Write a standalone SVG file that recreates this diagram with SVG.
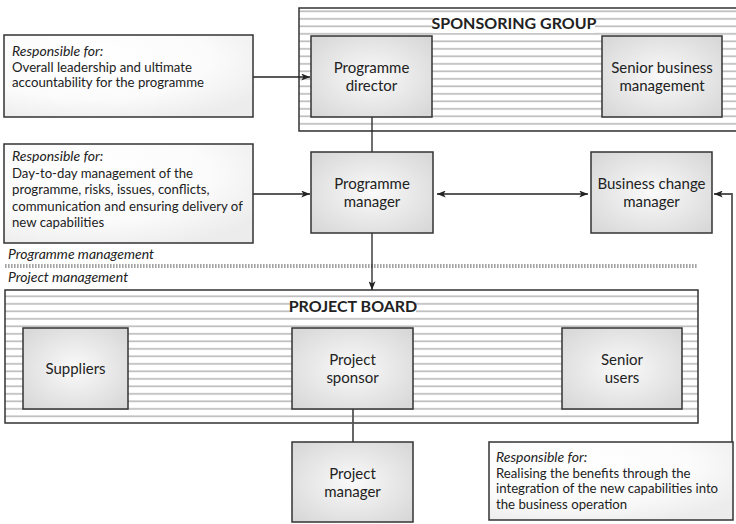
<svg xmlns="http://www.w3.org/2000/svg" width="736" height="524" viewBox="0 0 736 524">
<defs>
  <pattern id="stripes" patternUnits="userSpaceOnUse" x="0" y="0" width="10" height="7.5">
    <rect width="10" height="7.5" fill="#ffffff"/>
    <rect y="3" width="10" height="1.7" fill="#bdbdbd"/>
  </pattern>
  <radialGradient id="nodeFill" cx="50%" cy="50%" r="65%">
    <stop offset="0" stop-color="#fafafa"/>
    <stop offset="1" stop-color="#d8d8d8"/>
  </radialGradient>
  <radialGradient id="noteFill" cx="35%" cy="30%" r="80%">
    <stop offset="0" stop-color="#ffffff"/>
    <stop offset="0.6" stop-color="#fbfbfb"/>
    <stop offset="1" stop-color="#ececec"/>
  </radialGradient>
  <marker id="arrow" viewBox="0 0 10 8" refX="10" refY="4" markerWidth="9" markerHeight="7" markerUnits="userSpaceOnUse" orient="auto-start-reverse">
    <path d="M0,0 L10,4 L0,8 L2.5,4 Z" fill="#222"/>
  </marker>
</defs>
<style>
  .group { fill: url(#stripes); stroke: #333; stroke-width: 1.5; }
  .node { fill: url(#nodeFill); stroke: #333; stroke-width: 1.5; }
  .note { fill: url(#noteFill); stroke: #333; stroke-width: 1.5; }
  .title { font-family: Lato, "Liberation Sans", sans-serif; font-weight: bold; font-size: 16px; fill: #222; text-anchor: middle; }
  .label { font-family: Lato, "Liberation Sans", sans-serif; font-size: 15px; fill: #222; text-anchor: middle; }
  .txt { font-family: Lato, "Liberation Sans", sans-serif; font-size: 13.2px; fill: #222; }
  .it { font-style: italic; font-size: 14px; }
  .sec { font-family: Lato, "Liberation Sans", sans-serif; font-size: 14px; font-style: italic; fill: #222; }
  .conn { fill: none; stroke: #222; stroke-width: 1.3; }
  .conn2 { fill: none; stroke: #555; stroke-width: 1.8; }
</style>

<g id="sponsoring-group">
  <rect class="group" x="299" y="8" width="445" height="123"/>
  <rect x="433" y="16" width="162" height="17" fill="#ffffff"/>
  <text class="title" x="514" y="29">SPONSORING GROUP</text>
</g>

<g id="project-board">
  <rect class="group" x="5" y="290" width="693" height="133"/>
  <rect x="290" y="298" width="126" height="18" fill="#ffffff"/>
  <text class="title" x="353" y="312">PROJECT BOARD</text>
</g>

<g id="separator">
  <line x1="5" y1="266" x2="697" y2="266" stroke="#a4a4a4" stroke-width="4" stroke-dasharray="1.6 1.4"/>
  <text class="sec" x="8" y="259">Programme management</text>
  <text class="sec" x="8" y="282">Project management</text>
</g>

<g id="connectors">
  <line class="conn" x1="253" y1="77" x2="310" y2="77" marker-end="url(#arrow)"/>
  <line class="conn" x1="253" y1="194" x2="310" y2="194" marker-end="url(#arrow)"/>
  <line class="conn" x1="372" y1="117" x2="372" y2="152"/>
  <line class="conn" x1="372" y1="233" x2="372" y2="290" marker-end="url(#arrow)"/>
  <line class="conn" x1="437" y1="194" x2="588" y2="194" marker-start="url(#arrow)" marker-end="url(#arrow)"/>
  <path class="conn2" d="M732,442 L732,194 L714,194" marker-end="url(#arrow)"/>
  <line class="conn2" x1="353" y1="409" x2="353" y2="442"/>
</g>

<g id="note-director">
  <rect class="note" x="4" y="35" width="249" height="82"/>
  <text class="txt" x="12" y="56"><tspan class="it">Responsible for:</tspan><tspan x="12" dy="15.5">Overall leadership and ultimate</tspan><tspan x="12" dy="15.5">accountability for the programme</tspan></text>
</g>

<g id="note-manager">
  <rect class="note" x="4" y="144" width="249" height="99"/>
  <text class="txt" x="12" y="161"><tspan class="it">Responsible for:</tspan><tspan x="12" dy="16.5">Day-to-day management of the</tspan><tspan x="12" dy="16.5">programme, risks, issues, conflicts,</tspan><tspan x="12" dy="16.5">communication and ensuring delivery of</tspan><tspan x="12" dy="16.5">new capabilities</tspan></text>
</g>

<g id="note-business-change">
  <rect class="note" x="489" y="442" width="244" height="78"/>
  <text class="txt" x="496" y="462"><tspan class="it">Responsible for:</tspan><tspan x="496" dy="15.5">Realising the benefits through the</tspan><tspan x="496" dy="15.5">integration of the new capabilities into</tspan><tspan x="496" dy="15.5">the business operation</tspan></text>
</g>

<g id="programme-director">
  <rect class="node" x="311" y="36" width="121" height="81"/>
  <text class="label" x="371.5" y="73">Programme<tspan x="371.5" dy="18">director</tspan></text>
</g>

<g id="senior-business-management">
  <rect class="node" x="602" y="36" width="120" height="81"/>
  <text class="label" x="662" y="73">Senior business<tspan x="662" dy="18">management</tspan></text>
</g>

<g id="programme-manager">
  <rect class="node" x="311" y="152" width="122" height="81"/>
  <text class="label" x="372" y="189">Programme<tspan x="372" dy="18">manager</tspan></text>
</g>

<g id="business-change-manager">
  <rect class="node" x="591" y="152" width="121" height="81"/>
  <text class="label" x="651.5" y="189">Business change<tspan x="651.5" dy="18">manager</tspan></text>
</g>

<g id="suppliers">
  <rect class="node" x="23" y="328" width="105" height="81"/>
  <text class="label" x="75.5" y="374">Suppliers</text>
</g>

<g id="project-sponsor">
  <rect class="node" x="292" y="328" width="121" height="81"/>
  <text class="label" x="352.5" y="365">Project<tspan x="352.5" dy="18">sponsor</tspan></text>
</g>

<g id="senior-users">
  <rect class="node" x="562" y="328" width="120" height="81"/>
  <text class="label" x="622" y="365">Senior<tspan x="622" dy="18">users</tspan></text>
</g>

<g id="project-manager">
  <rect class="node" x="292" y="442" width="121" height="80"/>
  <text class="label" x="352.5" y="479">Project<tspan x="352.5" dy="18">manager</tspan></text>
</g>
</svg>
